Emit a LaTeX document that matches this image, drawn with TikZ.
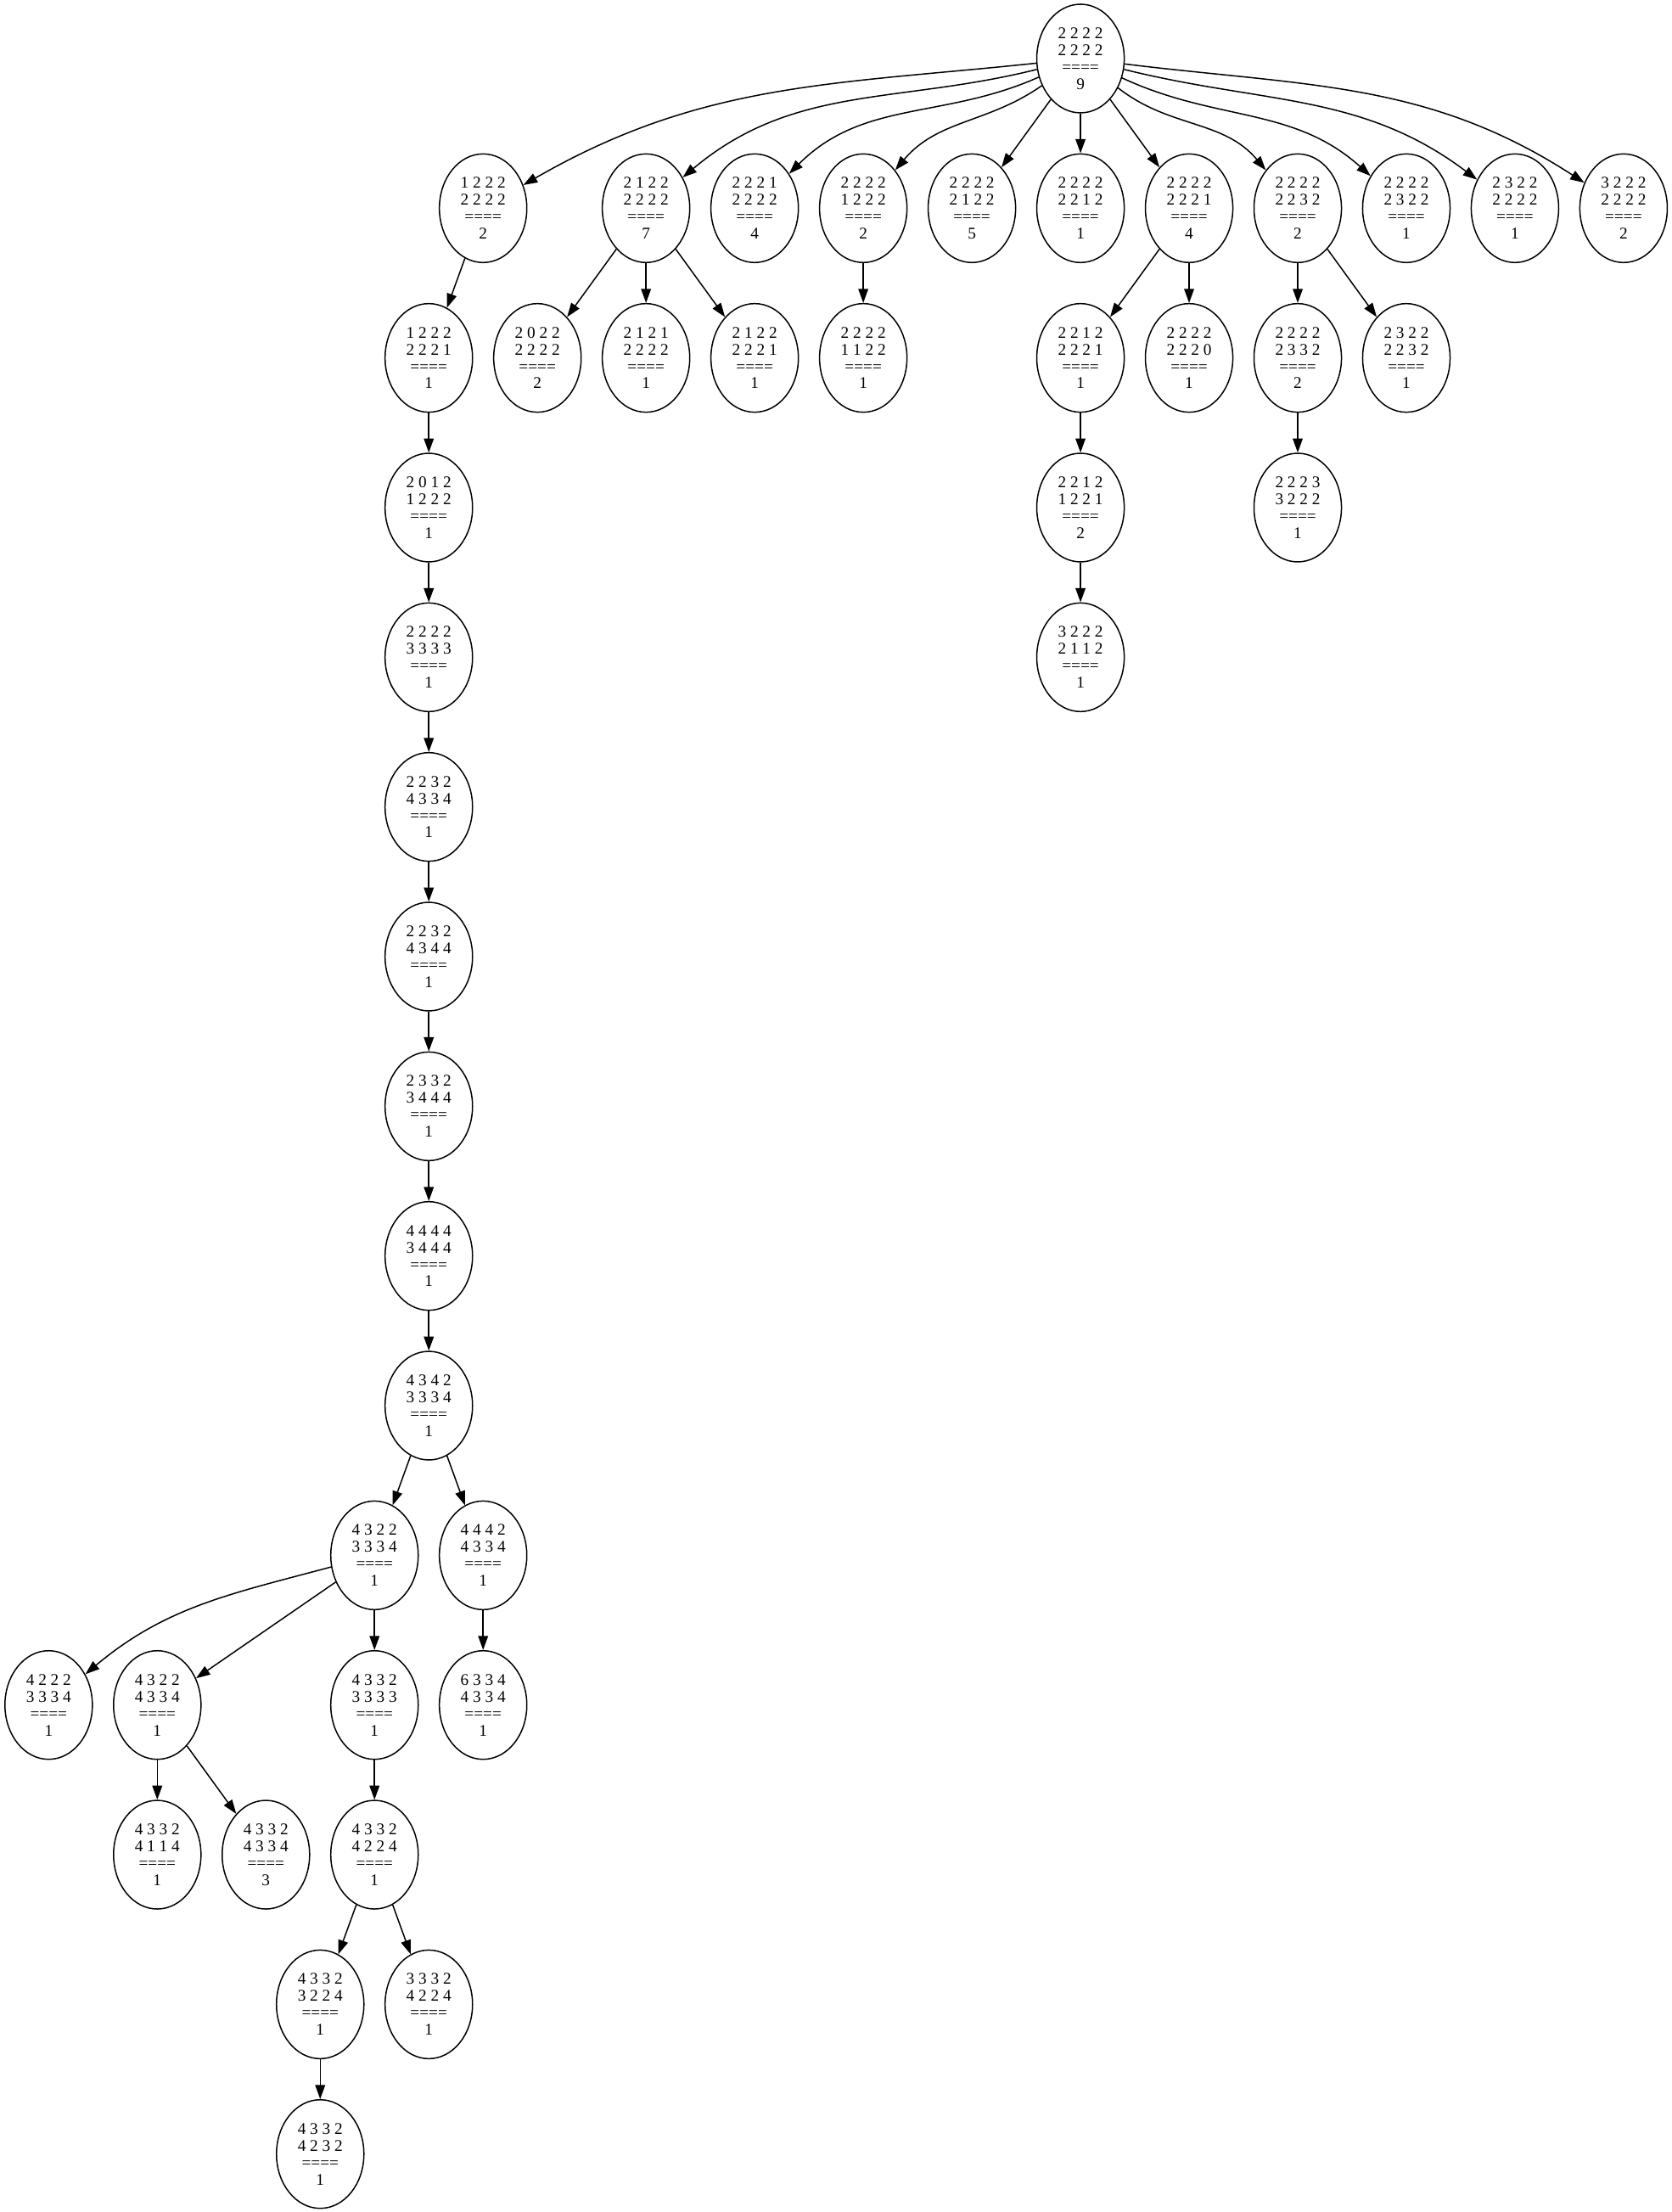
\documentclass[tikz,border=0pt]{standalone}
\usepackage{fontspec}
\setmainfont{Liberation Serif}
\usetikzlibrary{shapes.geometric,arrows.meta}
\newcommand{\statelab}[3]{#1\\#2\\====\\#3}

\begin{document}
\begin{tikzpicture}[x=77pt,y=-106.1pt,line width=0.9pt,
  >={Triangle[length=10pt,width=7pt]},
  st/.style={draw,ellipse,minimum width=62pt,minimum height=77pt,inner sep=0pt,
    align=center,font=\fontsize{11.6pt}{12pt}\selectfont}]
\useasboundingbox (-766pt,41.5pt) rectangle (419.3pt,-1526.5pt);
\node[st] (r) at (0,0) {\statelab{2 2 2 2}{2 2 2 2}{9}};
\node[st] (a1) at (-5.5,1) {\statelab{1 2 2 2}{2 2 2 2}{2}};
\node[st] (a2) at (-4,1) {\statelab{2 1 2 2}{2 2 2 2}{7}};
\node[st] (a3) at (-3,1) {\statelab{2 2 2 1}{2 2 2 2}{4}};
\node[st] (a4) at (-2,1) {\statelab{2 2 2 2}{1 2 2 2}{2}};
\node[st] (a5) at (-1,1) {\statelab{2 2 2 2}{2 1 2 2}{5}};
\node[st] (a6) at (0,1) {\statelab{2 2 2 2}{2 2 1 2}{1}};
\node[st] (a7) at (1,1) {\statelab{2 2 2 2}{2 2 2 1}{4}};
\node[st] (a8) at (2,1) {\statelab{2 2 2 2}{2 2 3 2}{2}};
\node[st] (a9) at (3,1) {\statelab{2 2 2 2}{2 3 2 2}{1}};
\node[st] (a10) at (4,1) {\statelab{2 3 2 2}{2 2 2 2}{1}};
\node[st] (a11) at (5,1) {\statelab{3 2 2 2}{2 2 2 2}{2}};
\node[st] (b1) at (-6,2) {\statelab{1 2 2 2}{2 2 2 1}{1}};
\node[st] (b2) at (-5,2) {\statelab{2 0 2 2}{2 2 2 2}{2}};
\node[st] (b3) at (-4,2) {\statelab{2 1 2 1}{2 2 2 2}{1}};
\node[st] (b4) at (-3,2) {\statelab{2 1 2 2}{2 2 2 1}{1}};
\node[st] (b5) at (-2,2) {\statelab{2 2 2 2}{1 1 2 2}{1}};
\node[st] (b6) at (0,2) {\statelab{2 2 1 2}{2 2 2 1}{1}};
\node[st] (b7) at (1,2) {\statelab{2 2 2 2}{2 2 2 0}{1}};
\node[st] (b8) at (2,2) {\statelab{2 2 2 2}{2 3 3 2}{2}};
\node[st] (b9) at (3,2) {\statelab{2 3 2 2}{2 2 3 2}{1}};
\node[st] (c1) at (-6,3) {\statelab{2 0 1 2}{1 2 2 2}{1}};
\node[st] (c6) at (0,3) {\statelab{2 2 1 2}{1 2 2 1}{2}};
\node[st] (c8) at (2,3) {\statelab{2 2 2 3}{3 2 2 2}{1}};
\node[st] (d1) at (-6,4) {\statelab{2 2 2 2}{3 3 3 3}{1}};
\node[st] (d6) at (0,4) {\statelab{3 2 2 2}{2 1 1 2}{1}};
\node[st] (e1) at (-6,5) {\statelab{2 2 3 2}{4 3 3 4}{1}};
\node[st] (f1) at (-6,6) {\statelab{2 2 3 2}{4 3 4 4}{1}};
\node[st] (g1) at (-6,7) {\statelab{2 3 3 2}{3 4 4 4}{1}};
\node[st] (h1) at (-6,8) {\statelab{4 4 4 4}{3 4 4 4}{1}};
\node[st] (i1) at (-6,9) {\statelab{4 3 4 2}{3 3 3 4}{1}};
\node[st] (j1) at (-6.5,10) {\statelab{4 3 2 2}{3 3 3 4}{1}};
\node[st] (j2) at (-5.5,10) {\statelab{4 4 4 2}{4 3 3 4}{1}};
\node[st] (k1) at (-9.5,11) {\statelab{4 2 2 2}{3 3 3 4}{1}};
\node[st] (k2) at (-8.5,11) {\statelab{4 3 2 2}{4 3 3 4}{1}};
\node[st] (k3) at (-6.5,11) {\statelab{4 3 3 2}{3 3 3 3}{1}};
\node[st] (k4) at (-5.5,11) {\statelab{6 3 3 4}{4 3 3 4}{1}};
\node[st] (l1) at (-8.5,12) {\statelab{4 3 3 2}{4 1 1 4}{1}};
\node[st] (l2) at (-7.5,12) {\statelab{4 3 3 2}{4 3 3 4}{3}};
\node[st] (l3) at (-6.5,12) {\statelab{4 3 3 2}{4 2 2 4}{1}};
\node[st] (m1) at (-7,13) {\statelab{4 3 3 2}{3 2 2 4}{1}};
\node[st] (m2) at (-6,13) {\statelab{3 3 3 2}{4 2 2 4}{1}};
\node[st] (n1) at (-7,14) {\statelab{4 3 3 2}{4 2 3 2}{1}};
\draw[->] (r) to[out=186,in=30] (a1);
\draw[->] (r) to[out=194,in=40] (a2);
\draw[->] (r) to[out=204,in=45] (a3);
\draw[->] (r) to[out=215,in=50] (a4);
\draw[->] (r) -- (a5);
\draw[->] (r) -- (a6);
\draw[->] (r) -- (a7);
\draw[->] (r) to[out=-38,in=130] (a8);
\draw[->] (r) to[out=-25,in=138] (a9);
\draw[->] (r) to[out=-14,in=143] (a10);
\draw[->] (r) to[out=-7,in=147] (a11);
\draw[->] (a1) -- (b1);
\draw[->] (a2) -- (b2);
\draw[->] (a2) -- (b3);
\draw[->] (a2) -- (b4);
\draw[->] (a4) -- (b5);
\draw[->] (a7) -- (b6);
\draw[->] (a7) -- (b7);
\draw[->] (a8) -- (b8);
\draw[->] (a8) -- (b9);
\draw[->] (b1) -- (c1);
\draw[->] (b6) -- (c6);
\draw[->] (b8) -- (c8);
\draw[->] (c1) -- (d1);
\draw[->] (c6) -- (d6);
\draw[->] (d1) -- (e1);
\draw[->] (e1) -- (f1);
\draw[->] (f1) -- (g1);
\draw[->] (g1) -- (h1);
\draw[->] (h1) -- (i1);
\draw[->] (i1) -- (j1);
\draw[->] (i1) -- (j2);
\draw[->] (j1) to[out=195,in=40] (k1);
\draw[->] (j1) -- (k2);
\draw[->] (j1) -- (k3);
\draw[->] (j2) -- (k4);
\draw[->] (k2) -- (l1);
\draw[->] (k2) -- (l2);
\draw[->] (k3) -- (l3);
\draw[->] (l3) -- (m1);
\draw[->] (l3) -- (m2);
\draw[->] (m1) -- (n1);
\end{tikzpicture}
\end{document}
